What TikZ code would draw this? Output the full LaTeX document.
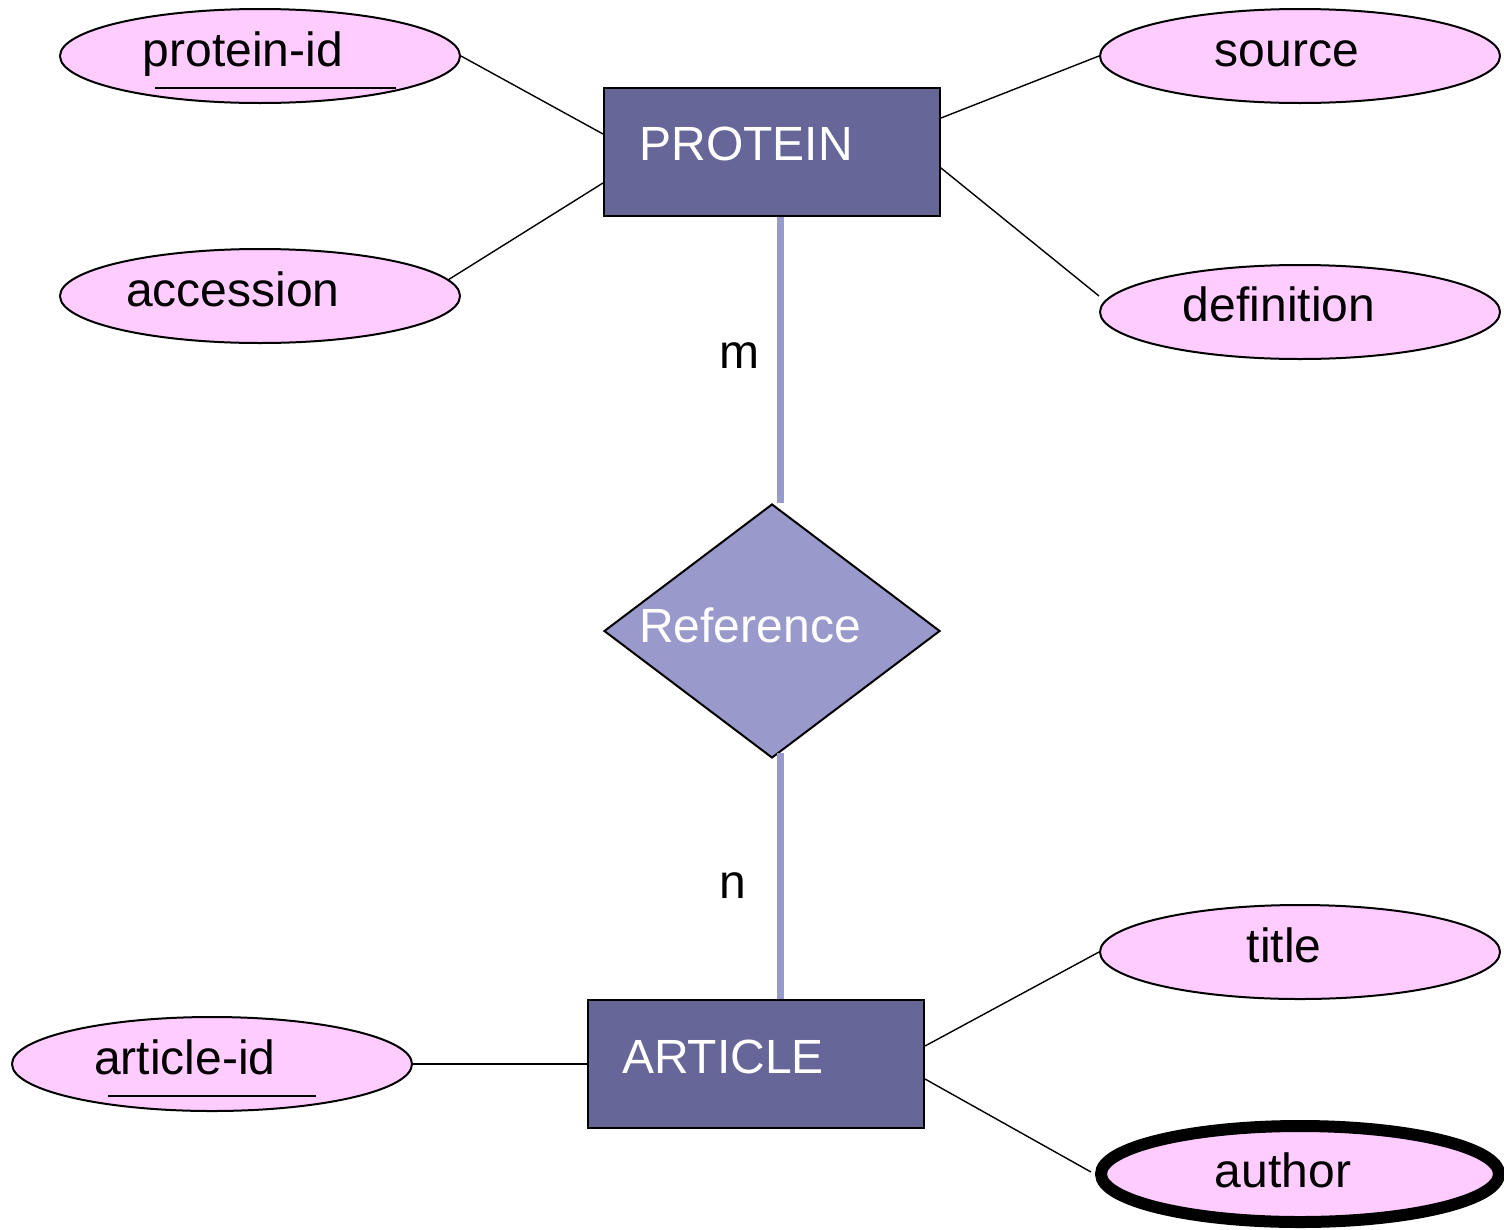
\documentclass[tikz,border=0pt]{standalone}
\usepackage{fontspec}
\setmainfont{Liberation Sans}
\usetikzlibrary{shapes.geometric,calc}
\definecolor{attrpink}{HTML}{FFCCFF}
\definecolor{entblue}{HTML}{666699}
\definecolor{relblue}{HTML}{9999CC}
\begin{document}
\begin{tikzpicture}[x=1pt,y=-1pt,
  bigfont/.style={font=\fontsize{48}{56}\selectfont},
  every label/.style={bigfont, inner sep=0pt, outer sep=0pt, text height=34pt, text depth=0pt},
  attr/.style={ellipse, draw=black, line width=2pt, fill=attrpink,
    minimum width=400pt, minimum height=94pt, inner sep=0pt},
  multiattr/.style={attr, line width=12pt, minimum height=96pt, minimum width=398pt},
  entity/.style={rectangle, draw=black, line width=2pt, fill=entblue,
    minimum width=336pt, minimum height=128pt, inner sep=0pt},
  relship/.style={diamond, draw=black, line width=2pt, fill=relblue,
    minimum width=336pt, minimum height=254pt, inner sep=0pt},
  conn/.style={draw=black, line width=1.4pt},
  relline/.style={draw=relblue, line width=7pt},
  keyline/.style={draw=black, line width=2pt},
  card/.style={bigfont, inner sep=0pt, anchor=base}
]
\useasboundingbox (0,0) rectangle (1504,1229);

% entities
\node[entity, label={[text=white, xshift=-26pt, yshift=9pt]center:PROTEIN}] (protein) at (772,152) {};
\node[entity, label={[text=white, xshift=-33pt, yshift=8pt]center:ARTICLE}] (article) at (756,1064) {};

% relationship
\node[relship, label={[text=white, xshift=-22pt, yshift=6pt]center:Reference}] (reference) at (772,631) {};

% attributes
\node[attr, label={[xshift=-17pt, yshift=7pt]center:protein-id}] (pid) at (260,56) {};
\node[attr, label={[xshift=-27pt, yshift=7pt]center:accession}] (acc) at (260,296) {};
\node[attr, label={[xshift=-13pt, yshift=7pt]center:source}] (src) at (1300,56) {};
\node[attr, label={[xshift=-21pt, yshift=8pt]center:definition}] (def) at (1300,312) {};
\node[attr, label={[xshift=-27pt, yshift=7pt]center:article-id}] (aid) at (212,1064) {};
\node[attr, label={[xshift=-16pt, yshift=7pt]center:title}] (title) at (1300,952) {};
\node[multiattr, label={[xshift=-17pt, yshift=4pt]center:author}] (author) at (1300,1174) {};

% key underlines
\draw[keyline] ($(pid.center)+(-105,32)$) -- ($(pid.center)+(136,32)$);
\draw[keyline] ($(aid.center)+(-104,32)$) -- ($(aid.center)+(104,32)$);

% attribute connectors
\draw[conn] (pid.east) -- ($(protein.north west)+(0,47)$);
\draw[conn] (acc.5) -- ($(protein.north west)+(0,96)$);
\draw[conn] (src.west) -- ($(protein.north east)+(0,31)$);
\draw[conn] ($(def.west)+(0,-16)$) -- ($(protein.north east)+(0,81)$);
\draw[conn] (aid.east) -- (article.west);
\draw[conn] (title.west) -- ($(article.north east)+(0,47)$);
\draw[conn] ($(author.west)+(-4,-2)$) -- ($(article.north east)+(0,80)$);

% relationship lines
\draw[relline] ($(protein.south)+(8,0)$) -- ($(reference.north)+(8,0)$);
\draw[relline] ($(reference.south)+(8,-6)$) -- ($(article.north)+(24,0)$);

% cardinalities
\node[card] (m) at (739,368) {m};
\node[card] (n) at (733,898) {n};
\end{tikzpicture}
\end{document}
